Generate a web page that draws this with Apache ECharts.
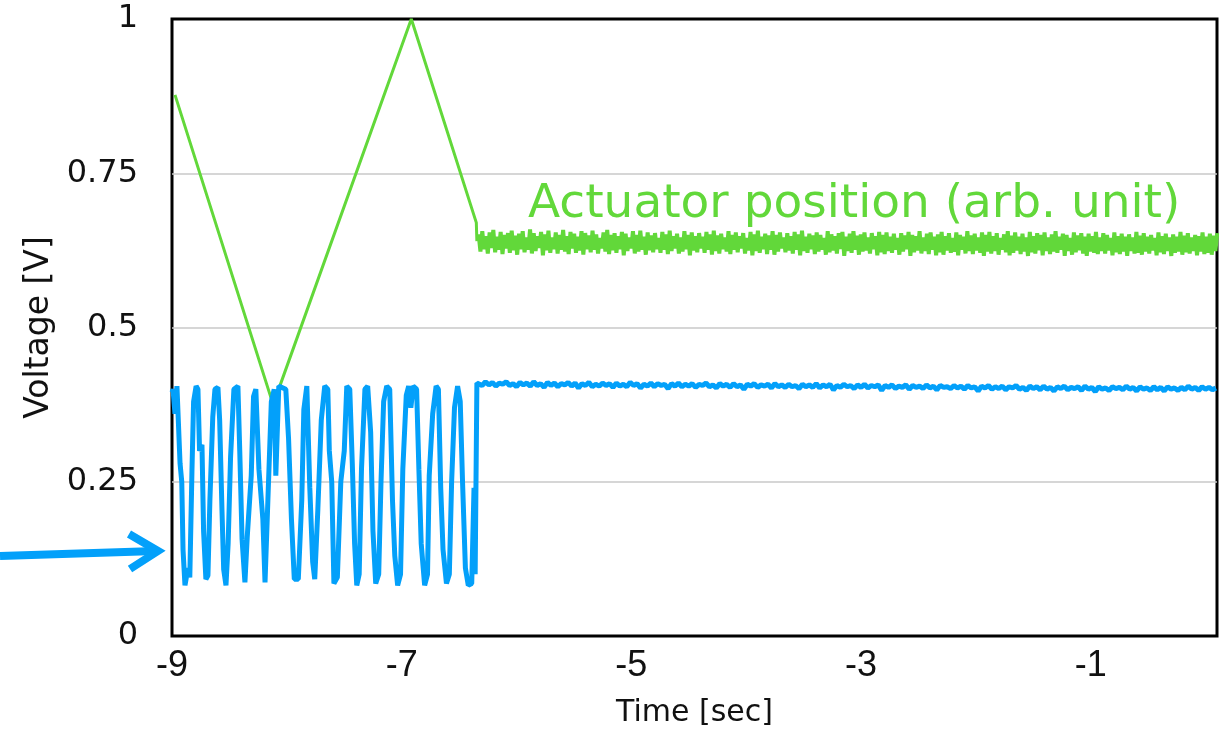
<!DOCTYPE html>
<html>
<head>
<meta charset="utf-8">
<script src="https://cdn.jsdelivr.net/npm/echarts@6/dist/echarts.min.js"></script>
<style>
  html, body { margin: 0; padding: 0; background: #fff; }
  #chart { width: 1225px; height: 733px; }
</style>
</head>
<body>
<div id="chart"></div>
<script>
// actuator ramp before lock (time [s], voltage)
const greenRamp = [
  [-8.974, 0.877], [-8.119, 0.375], [-6.916, 1.0], [-6.350, 0.670], [-6.345, 0.640]
];
// actuator position after lock, one value every greenStep seconds from tailStart
const tailStart = -6.33;
const greenStep = 0.016;
const greenTail = [
  0.651,0.623,0.656,0.627,0.648,0.620,0.654,0.629,0.658,0.622,
  0.647,0.626,0.655,0.619,0.650,0.628,0.653,0.621,0.657,0.625,
  0.649,0.618,0.652,0.627,0.656,0.622,0.646,0.626,0.659,0.620,
  0.653,0.624,0.648,0.629,0.655,0.617,0.651,0.625,0.657,0.621,
  0.646,0.627,0.654,0.620,0.650,0.626,0.658,0.623,0.648,0.619,
  0.655,0.628,0.652,0.621,0.647,0.625,0.656,0.618,0.653,0.627,
  0.649,0.622,0.657,0.626,0.651,0.620,0.645,0.628,0.654,0.623,
  0.658,0.619,0.650,0.625,0.653,0.621,0.648,0.627,0.655,0.617,
  0.652,0.624,0.646,0.628,0.656,0.620,0.650,0.623,0.657,0.626,
  0.647,0.618,0.654,0.625,0.649,0.622,0.653,0.627,0.645,0.621,
  0.655,0.626,0.651,0.619,0.657,0.624,0.648,0.628,0.652,0.620,
  0.646,0.623,0.656,0.627,0.650,0.617,0.654,0.625,0.648,0.622,
  0.653,0.628,0.647,0.621,0.655,0.626,0.651,0.618,0.657,0.624,
  0.649,0.620,0.652,0.627,0.646,0.623,0.656,0.619,0.650,0.626,
  0.654,0.622,0.648,0.628,0.653,0.620,0.645,0.625,0.655,0.617,
  0.651,0.624,0.657,0.621,0.647,0.627,0.652,0.619,0.649,0.626,
  0.656,0.618,0.650,0.623,0.654,0.628,0.646,0.622,0.653,0.625,
  0.648,0.620,0.655,0.626,0.651,0.617,0.657,0.624,0.647,0.621,
  0.652,0.627,0.649,0.619,0.654,0.623,0.650,0.626,0.645,0.618,
  0.656,0.622,0.651,0.625,0.648,0.620,0.653,0.627,0.655,0.616,
  0.647,0.624,0.652,0.621,0.656,0.626,0.649,0.618,0.651,0.623,
  0.654,0.625,0.646,0.620,0.653,0.627,0.648,0.617,0.655,0.622,
  0.650,0.619,0.654,0.624,0.647,0.621,0.652,0.626,0.645,0.618,
  0.653,0.623,0.649,0.627,0.655,0.616,0.650,0.622,0.648,0.625,
  0.656,0.620,0.646,0.624,0.652,0.619,0.654,0.626,0.647,0.617,
  0.651,0.622,0.655,0.618,0.648,0.625,0.653,0.621,0.645,0.623,
  0.654,0.617,0.650,0.626,0.647,0.620,0.656,0.624,0.649,0.619,
  0.652,0.625,0.646,0.621,0.654,0.616,0.650,0.623,0.655,0.620,
  0.648,0.624,0.653,0.618,0.645,0.626,0.651,0.622,0.656,0.617,
  0.649,0.621,0.654,0.625,0.647,0.619,0.652,0.623,0.646,0.616,
  0.655,0.622,0.648,0.620,0.653,0.625,0.650,0.617,0.654,0.624,
  0.646,0.619,0.651,0.623,0.656,0.621,0.647,0.626,0.652,0.616,
  0.650,0.624,0.645,0.618,0.654,0.622,0.649,0.625,0.653,0.620,
  0.647,0.616,0.652,0.623,0.648,0.621,0.655,0.619,0.646,0.624,
  0.653,0.620,0.650,0.625,0.645,0.617,0.654,0.622,0.648,0.619,
  0.652,0.623,0.647,0.616,0.651,0.624,0.646,0.620,0.655,0.621,
  0.649,0.618,0.653,0.623,0.647,0.620,0.650,0.625,0.645,0.617,
  0.654,0.622,0.648,0.619,0.652,0.624,0.646,0.616,0.651,0.621,
  0.647,0.623,0.655,0.618,0.649,0.622,0.653,0.620,0.646,0.624,
  0.650,0.617,0.648,0.623,0.654,0.619,0.647,0.621,0.652,0.618,
  0.649,0.624,0.653
];
// detector signal while scanning (time [s], voltage)
const blueScan = [
  [-9.0, 0.395], [-8.991, 0.40], [-8.974, 0.36], [-8.957, 0.405], [-8.93, 0.28], [-8.915, 0.25],
  [-8.904, 0.14], [-8.887, 0.082], [-8.861, 0.11], [-8.845, 0.095], [-8.826, 0.27], [-8.812, 0.38],
  [-8.79, 0.405], [-8.774, 0.40], [-8.76, 0.30], [-8.739, 0.31], [-8.725, 0.17], [-8.705, 0.092],
  [-8.687, 0.098], [-8.67, 0.22], [-8.645, 0.355], [-8.626, 0.40], [-8.60, 0.403], [-8.585, 0.35],
  [-8.565, 0.205], [-8.55, 0.108], [-8.53, 0.082], [-8.511, 0.15], [-8.49, 0.29], [-8.461, 0.40],
  [-8.426, 0.405], [-8.41, 0.30], [-8.39, 0.157], [-8.365, 0.087], [-8.345, 0.16], [-8.31, 0.26],
  [-8.29, 0.388], [-8.27, 0.40], [-8.243, 0.27], [-8.209, 0.19], [-8.19, 0.087], [-8.165, 0.22],
  [-8.135, 0.38], [-8.11, 0.40], [-8.096, 0.26], [-8.07, 0.405], [-8.009, 0.40], [-7.985, 0.32],
  [-7.96, 0.19], [-7.935, 0.092], [-7.90, 0.092], [-7.87, 0.22], [-7.852, 0.367], [-7.826, 0.405],
  [-7.80, 0.24], [-7.775, 0.12], [-7.757, 0.092], [-7.73, 0.205], [-7.70, 0.35], [-7.67, 0.405],
  [-7.643, 0.40], [-7.63, 0.30], [-7.609, 0.25], [-7.59, 0.085], [-7.56, 0.095], [-7.53, 0.25],
  [-7.50, 0.30], [-7.478, 0.405], [-7.452, 0.40], [-7.43, 0.28], [-7.41, 0.15], [-7.391, 0.082],
  [-7.37, 0.10], [-7.35, 0.27], [-7.32, 0.40], [-7.296, 0.405], [-7.27, 0.33], [-7.25, 0.17],
  [-7.226, 0.085], [-7.20, 0.10], [-7.18, 0.25], [-7.157, 0.38], [-7.13, 0.405], [-7.104, 0.40],
  [-7.08, 0.22], [-7.06, 0.13], [-7.035, 0.082], [-7.01, 0.10], [-6.99, 0.27], [-6.96, 0.39],
  [-6.939, 0.405], [-6.92, 0.37], [-6.90, 0.405], [-6.87, 0.40], [-6.85, 0.27], [-6.83, 0.15],
  [-6.80, 0.082], [-6.775, 0.10], [-6.76, 0.26], [-6.73, 0.36], [-6.70, 0.405], [-6.68, 0.40],
  [-6.66, 0.24], [-6.64, 0.14], [-6.61, 0.085], [-6.585, 0.10], [-6.565, 0.25], [-6.54, 0.37],
  [-6.513, 0.405], [-6.49, 0.38], [-6.47, 0.25], [-6.445, 0.11], [-6.42, 0.082], [-6.39, 0.085],
  [-6.37, 0.24], [-6.36, 0.10], [-6.345, 0.41]
];
// detector signal after lock, one value every blueStep seconds from tailStart
const blueStep = 0.03;
const blueTail = [
  0.410,0.406,0.412,0.407,0.411,0.405,0.410,0.408,0.412,0.406,
  0.409,0.404,0.411,0.407,0.410,0.405,0.412,0.406,0.409,0.403,
  0.411,0.406,0.410,0.404,0.409,0.407,0.411,0.405,0.410,0.402,
  0.409,0.406,0.411,0.404,0.408,0.405,0.410,0.406,0.409,0.403,
  0.410,0.405,0.408,0.404,0.411,0.406,0.409,0.402,0.408,0.405,
  0.410,0.404,0.409,0.406,0.408,0.401,0.409,0.405,0.410,0.404,
  0.408,0.405,0.409,0.403,0.408,0.406,0.410,0.404,0.407,0.402,
  0.409,0.405,0.408,0.403,0.409,0.404,0.407,0.400,0.408,0.405,
  0.409,0.403,0.407,0.405,0.408,0.402,0.409,0.404,0.407,0.403,
  0.408,0.404,0.406,0.401,0.408,0.404,0.407,0.403,0.409,0.402,
  0.407,0.404,0.408,0.399,0.406,0.403,0.408,0.404,0.406,0.401,
  0.407,0.403,0.408,0.402,0.406,0.404,0.407,0.398,0.406,0.403,
  0.407,0.401,0.405,0.403,0.407,0.400,0.406,0.403,0.405,0.401,
  0.407,0.402,0.405,0.399,0.406,0.403,0.404,0.401,0.406,0.402,
  0.405,0.400,0.406,0.402,0.404,0.397,0.405,0.402,0.406,0.400,
  0.404,0.401,0.405,0.399,0.404,0.402,0.406,0.400,0.403,0.398,
  0.405,0.401,0.404,0.399,0.405,0.400,0.403,0.397,0.404,0.401,
  0.405,0.399,0.403,0.401,0.404,0.398,0.405,0.400,0.403,0.396,
  0.404,0.400,0.402,0.398,0.404,0.401,0.403,0.399,0.405,0.400,
  0.403,0.397,0.404,0.400,0.402,0.398,0.404,0.399,0.403,0.397,
  0.404,0.400,0.402,0.398,0.403,0.399,0.405,0.400,0.403,0.398,
  0.404,0.400,0.403,0.399,0.402
];
const xTickLabels = [-9, -7, -5, -3, -1];
const yTicks = [0, 0.25, 0.5, 0.75, 1];

const GREEN = '#62d83a';
const BLUE = '#03a0fa';
const FONT = 'DejaVu Sans';
const greenTailData = greenTail.map((v, i) => [+(tailStart + i * greenStep).toFixed(3), v]);
const blueData = blueScan.concat(blueTail.map((v, i) => [+(tailStart + i * blueStep).toFixed(3), v]));

const chart = echarts.init(document.getElementById('chart'), null, { renderer: 'canvas' });
const option = {
  animation: false,
  grid: {
    left: 172, right: 8, top: 19, bottom: 96,
    show: true, borderColor: '#000', borderWidth: 3
  },
  xAxis: {
    type: 'value',
    min: -9, max: 0.1, interval: 1,
    name: 'Time [sec]',
    nameLocation: 'middle',
    nameGap: 62,
    nameTextStyle: { fontSize: 30, color: '#111', fontFamily: FONT },
    axisLine: { show: false },
    axisTick: { show: false },
    splitLine: { show: false },
    axisLabel: {
      margin: 12,
      fontSize: 36,
      color: '#111',
      fontFamily: 'Liberation Sans',
      showMaxLabel: false,
      formatter: (v) => xTickLabels.includes(v) ? String(v) : ''
    }
  },
  yAxis: {
    type: 'value',
    min: 0, max: 1, interval: 0.25,
    name: 'Voltage [V]',
    nameLocation: 'middle',
    nameGap: 116,
    nameTextStyle: { fontSize: 33, color: '#111', fontFamily: FONT },
    axisLine: { show: false },
    axisTick: { show: false },
    splitLine: { show: true, showMinLine: false, showMaxLine: false, lineStyle: { color: '#c8c8c8', width: 1.5 } },
    axisLabel: {
      margin: 34,
      fontSize: 32,
      color: '#111',
      fontFamily: FONT,
      formatter: (v) => yTicks.includes(v) ? String(v) : ''
    }
  },
  graphic: [
    {
      type: 'text', left: 528, top: 181, z: 10,
      style: { text: 'Actuator position (arb. unit)', fill: GREEN, fontSize: 47, fontFamily: FONT }
    },
    {
      type: 'line', z: 10,
      shape: { x1: 0, y1: 556, x2: 156, y2: 551 },
      style: { stroke: BLUE, lineWidth: 8 }
    },
    {
      type: 'polyline', z: 10,
      shape: { points: [[129, 534], [158, 551], [130, 569]] },
      style: { stroke: BLUE, lineWidth: 8, fill: null, lineJoin: 'miter' }
    }
  ],
  series: [
    {
      type: 'line', name: 'actuator', data: greenRamp,
      showSymbol: false,
      lineStyle: { color: GREEN, width: 3 }
    },
    {
      type: 'line', name: 'actuator locked', data: greenTailData,
      showSymbol: false, sampling: null,
      lineStyle: { color: GREEN, width: 4 }
    },
    {
      type: 'line', name: 'signal', data: blueData,
      showSymbol: false, sampling: null,
      lineStyle: { color: BLUE, width: 5 }
    }
  ]
};
chart.setOption(option);
</script>
</body>
</html>
